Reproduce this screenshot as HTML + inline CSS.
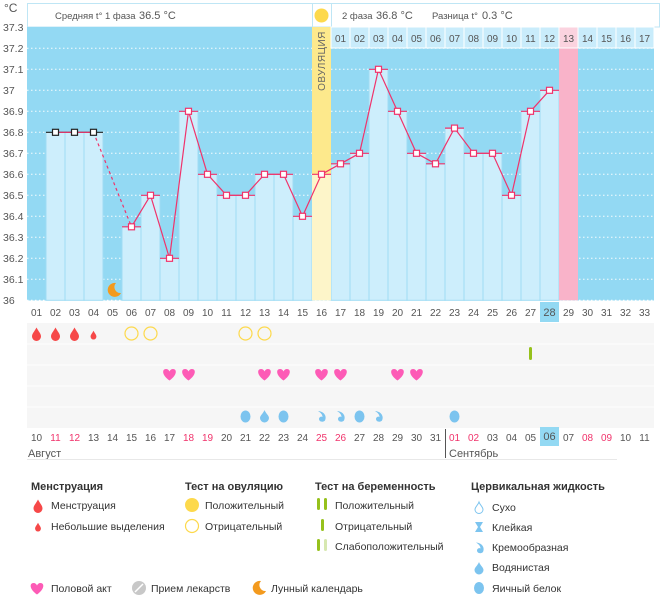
<!DOCTYPE html>
<html><head><meta charset="utf-8"><style>
body{margin:0;background:#fff}
svg{display:block;font-family:"Liberation Sans","DejaVu Sans",sans-serif}
</style></head><body>
<svg width="663" height="595" viewBox="0 0 663 595" xmlns="http://www.w3.org/2000/svg">
<defs>
<path id="drop" d="M0,-6.5 C2,-2.5 4.5,-0.5 4.5,2.5 A4.5,4.5 0 0 1 -4.5,2.5 C-4.5,-0.5 -2,-2.5 0,-6.5Z"/>
<path id="heart" d="M0,5.5 C-8,0 -7.5,-6 -3.5,-6 C-1.8,-6 -0.5,-5 0,-3.5 C0.5,-5 1.8,-6 3.5,-6 C7.5,-6 8,0 0,5.5Z"/>
<path id="cream" d="M-3.5,-5.5 C3,-5 5.5,0 3.5,4 C2,6 -2.5,5.5 -2.5,2.5 C-2.5,0.5 0,-0.5 1,0.5 C1,-2 -1,-4 -3.5,-5.5Z"/>
<path id="wdrop" d="M0,-6 C1,-3 4.5,-0.5 4.5,2 A4.5,4.5 0 0 1 -4.5,2 C-4.5,-0.5 -1,-3 0,-6Z"/>
<path id="moon" d="M2,-7 A7,7 0 1 0 7,3 A6,6 0 0 1 2,-7Z"/>
</defs>

<text x="4" y="12" font-size="12" fill="#555">°C</text>

<rect x="27.5" y="3.5" width="632" height="23.5" fill="#fff" stroke="#bfe6f5"/>
<line x1="312.5" y1="3.5" x2="312.5" y2="27" stroke="#bfe6f5"/>
<line x1="331.5" y1="3.5" x2="331.5" y2="27" stroke="#bfe6f5"/>
<text x="55" y="19" font-size="9.5" fill="#555">Средняя t° 1 фаза</text>
<text x="139" y="19" font-size="11" fill="#555">36.5 °C</text>
<text x="342" y="19" font-size="9.5" fill="#555">2 фаза</text>
<text x="376" y="19" font-size="11" fill="#555">36.8 °C</text>
<text x="432" y="19" font-size="9.5" fill="#555">Разница t°</text>
<text x="482" y="19" font-size="11" fill="#555">0.3 °C</text>
<circle cx="321.5" cy="15.5" r="7" fill="#fdd94c"/>

<rect x="27" y="27" width="627" height="273.5" fill="#93d9f3"/>
<g stroke="#fff" stroke-dasharray="1.5,2.5" stroke-width="1" opacity="0.9">
<line x1="27" x2="654" y1="48.3" y2="48.3"/><line x1="27" x2="654" y1="69.3" y2="69.3"/>
<line x1="27" x2="654" y1="90.3" y2="90.3"/><line x1="27" x2="654" y1="111.3" y2="111.3"/>
<line x1="27" x2="654" y1="132.3" y2="132.3"/><line x1="27" x2="654" y1="153.3" y2="153.3"/>
<line x1="27" x2="654" y1="174.3" y2="174.3"/><line x1="27" x2="654" y1="195.3" y2="195.3"/>
<line x1="27" x2="654" y1="216.3" y2="216.3"/><line x1="27" x2="654" y1="237.3" y2="237.3"/>
<line x1="27" x2="654" y1="258.3" y2="258.3"/><line x1="27" x2="654" y1="279.3" y2="279.3"/>
<line x1="27" x2="654" y1="300.3" y2="300.3"/>
</g>

<g fill="#cdeefc" stroke="#9fdcf3" stroke-width="1">
<rect x="46" y="132.3" width="19" height="168"/>
<rect x="65" y="132.3" width="19" height="168"/>
<rect x="84" y="132.3" width="19" height="168"/>
<rect x="122" y="226.8" width="19" height="73.5"/>
<rect x="141" y="195.3" width="19" height="105"/>
<rect x="160" y="258.3" width="19" height="42"/>
<rect x="179" y="111.3" width="19" height="189"/>
<rect x="198" y="174.3" width="19" height="126"/>
<rect x="217" y="195.3" width="19" height="105"/>
<rect x="236" y="195.3" width="19" height="105"/>
<rect x="255" y="174.3" width="19" height="126"/>
<rect x="274" y="174.3" width="19" height="126"/>
<rect x="293" y="216.3" width="19" height="84"/>
<rect x="331" y="163.8" width="19" height="136.5"/>
<rect x="350" y="153.3" width="19" height="147"/>
<rect x="369" y="69.3" width="19" height="231"/>
<rect x="388" y="111.3" width="19" height="189"/>
<rect x="407" y="153.3" width="19" height="147"/>
<rect x="426" y="163.8" width="19" height="136.5"/>
<rect x="445" y="128.1" width="19" height="172.2"/>
<rect x="464" y="153.3" width="19" height="147"/>
<rect x="483" y="153.3" width="19" height="147"/>
<rect x="502" y="195.3" width="19" height="105"/>
<rect x="521" y="111.3" width="19" height="189"/>
<rect x="540" y="90.3" width="19" height="210"/>
</g>
<rect x="312" y="27" width="19" height="147.3" fill="#fde98c"/>
<rect x="312" y="174.3" width="19" height="126" fill="#fdf5c9"/>
<text transform="translate(325,61) rotate(-90)" font-size="10" fill="#666" text-anchor="middle" letter-spacing="0.5">ОВУЛЯЦИЯ</text>
<rect x="559" y="27" width="19" height="273.3" fill="#f9b3c9"/>

<g fill="#c9ecfb" stroke="#fff" stroke-width="1">
<rect x="331" y="27" width="19" height="21"/><rect x="350" y="27" width="19" height="21"/>
<rect x="369" y="27" width="19" height="21"/><rect x="388" y="27" width="19" height="21"/>
<rect x="407" y="27" width="19" height="21"/><rect x="426" y="27" width="19" height="21"/>
<rect x="445" y="27" width="19" height="21"/><rect x="464" y="27" width="19" height="21"/>
<rect x="483" y="27" width="19" height="21"/><rect x="502" y="27" width="19" height="21"/>
<rect x="521" y="27" width="19" height="21"/><rect x="540" y="27" width="19" height="21"/>
<rect x="559" y="27" width="19" height="21" fill="#fbd3df"/><rect x="578" y="27" width="19" height="21"/>
<rect x="597" y="27" width="19" height="21"/><rect x="616" y="27" width="19" height="21"/>
<rect x="635" y="27" width="19" height="21"/>
</g>
<g font-size="10" fill="#555" text-anchor="middle">
<text x="340.5" y="42">01</text><text x="359.5" y="42">02</text><text x="378.5" y="42">03</text>
<text x="397.5" y="42">04</text><text x="416.5" y="42">05</text><text x="435.5" y="42">06</text>
<text x="454.5" y="42">07</text><text x="473.5" y="42">08</text><text x="492.5" y="42">09</text>
<text x="511.5" y="42">10</text><text x="530.5" y="42">11</text><text x="549.5" y="42">12</text>
<text x="568.5" y="42">13</text><text x="587.5" y="42">14</text><text x="606.5" y="42">15</text>
<text x="625.5" y="42">16</text><text x="644.5" y="42">17</text>
</g>

<g stroke="#222" stroke-width="1.2">
<line x1="46" x2="103" y1="132.3" y2="132.3"/>
</g>
<g stroke="#f0336b" stroke-width="1.2">
<line x1="122" x2="141" y1="226.8" y2="226.8"/><line x1="141" x2="160" y1="195.3" y2="195.3"/>
<line x1="160" x2="179" y1="258.3" y2="258.3"/><line x1="179" x2="198" y1="111.3" y2="111.3"/>
<line x1="198" x2="217" y1="174.3" y2="174.3"/><line x1="217" x2="255" y1="195.3" y2="195.3"/>
<line x1="255" x2="293" y1="174.3" y2="174.3"/><line x1="293" x2="312" y1="216.3" y2="216.3"/>
<line x1="312" x2="331" y1="174.3" y2="174.3"/><line x1="331" x2="350" y1="163.8" y2="163.8"/>
<line x1="350" x2="369" y1="153.3" y2="153.3"/><line x1="369" x2="388" y1="69.3" y2="69.3"/>
<line x1="388" x2="407" y1="111.3" y2="111.3"/><line x1="407" x2="426" y1="153.3" y2="153.3"/>
<line x1="426" x2="445" y1="163.8" y2="163.8"/><line x1="445" x2="464" y1="128.1" y2="128.1"/>
<line x1="464" x2="502" y1="153.3" y2="153.3"/><line x1="502" x2="521" y1="195.3" y2="195.3"/>
<line x1="521" x2="540" y1="111.3" y2="111.3"/><line x1="540" x2="559" y1="90.3" y2="90.3"/>
</g>
<polyline points="55.5,132.3 74.5,132.3 93.5,132.3" fill="none" stroke="#f0336b" stroke-width="1.2"/>
<line x1="93.5" y1="132.3" x2="131.5" y2="226.8" stroke="#f0336b" stroke-width="1.2" stroke-dasharray="3,3"/>
<polyline fill="none" stroke="#f0336b" stroke-width="1.2" points="131.5,226.8 150.5,195.3 169.5,258.3 188.5,111.3 207.5,174.3 226.5,195.3 245.5,195.3 264.5,174.3 283.5,174.3 302.5,216.3 321.5,174.3 340.5,163.8 359.5,153.3 378.5,69.3 397.5,111.3 416.5,153.3 435.5,163.8 454.5,128.1 473.5,153.3 492.5,153.3 511.5,195.3 530.5,111.3 549.5,90.3"/>
<g fill="#fff" stroke="#222" stroke-width="1.2">
<rect x="52.5" y="129.3" width="6" height="6"/><rect x="71.5" y="129.3" width="6" height="6"/><rect x="90.5" y="129.3" width="6" height="6"/>
</g>
<g fill="#fff" stroke="#f0336b" stroke-width="1.2">
<rect x="128.5" y="223.8" width="6" height="6"/><rect x="147.5" y="192.3" width="6" height="6"/>
<rect x="166.5" y="255.3" width="6" height="6"/><rect x="185.5" y="108.3" width="6" height="6"/>
<rect x="204.5" y="171.3" width="6" height="6"/><rect x="223.5" y="192.3" width="6" height="6"/>
<rect x="242.5" y="192.3" width="6" height="6"/><rect x="261.5" y="171.3" width="6" height="6"/>
<rect x="280.5" y="171.3" width="6" height="6"/><rect x="299.5" y="213.3" width="6" height="6"/>
<rect x="318.5" y="171.3" width="6" height="6"/><rect x="337.5" y="160.8" width="6" height="6"/>
<rect x="356.5" y="150.3" width="6" height="6"/><rect x="375.5" y="66.3" width="6" height="6"/>
<rect x="394.5" y="108.3" width="6" height="6"/><rect x="413.5" y="150.3" width="6" height="6"/>
<rect x="432.5" y="160.8" width="6" height="6"/><rect x="451.5" y="125.1" width="6" height="6"/>
<rect x="470.5" y="150.3" width="6" height="6"/><rect x="489.5" y="150.3" width="6" height="6"/>
<rect x="508.5" y="192.3" width="6" height="6"/><rect x="527.5" y="108.3" width="6" height="6"/>
<rect x="546.5" y="87.3" width="6" height="6"/>
</g>
<use href="#moon" x="114" y="290" fill="#f39a1e"/>

<g font-size="10.5" fill="#555">
<text x="3" y="31">37.3</text><text x="3" y="52">37.2</text><text x="3" y="73">37.1</text>
<text x="3" y="94">37</text><text x="3" y="115">36.9</text><text x="3" y="136">36.8</text>
<text x="3" y="157">36.7</text><text x="3" y="178">36.6</text><text x="3" y="199">36.5</text>
<text x="3" y="220">36.4</text><text x="3" y="241">36.3</text><text x="3" y="262">36.2</text>
<text x="3" y="283">36.1</text><text x="3" y="304">36</text>
</g>

<rect x="540" y="302" width="19" height="20" fill="#93d9f3"/>
<g font-size="10" fill="#555" text-anchor="middle">
<text x="36.5" y="316">01</text><text x="55.5" y="316">02</text><text x="74.5" y="316">03</text><text x="93.5" y="316">04</text>
<text x="112.5" y="316">05</text><text x="131.5" y="316">06</text><text x="150.5" y="316">07</text><text x="169.5" y="316">08</text>
<text x="188.5" y="316">09</text><text x="207.5" y="316">10</text><text x="226.5" y="316">11</text><text x="245.5" y="316">12</text>
<text x="264.5" y="316">13</text><text x="283.5" y="316">14</text><text x="302.5" y="316">15</text><text x="321.5" y="316">16</text>
<text x="340.5" y="316">17</text><text x="359.5" y="316">18</text><text x="378.5" y="316">19</text><text x="397.5" y="316">20</text>
<text x="416.5" y="316">21</text><text x="435.5" y="316">22</text><text x="454.5" y="316">23</text><text x="473.5" y="316">24</text>
<text x="492.5" y="316">25</text><text x="511.5" y="316">26</text><text x="530.5" y="316">27</text><text x="549.5" y="316" font-size="11">28</text>
<text x="568.5" y="316">29</text><text x="587.5" y="316">30</text><text x="606.5" y="316">31</text><text x="625.5" y="316">32</text>
<text x="644.5" y="316">33</text>
</g>

<rect x="27" y="323" width="627" height="105" fill="#f6f6f6"/>
<g stroke="#fff" stroke-width="1">
<line x1="27" x2="654" y1="344" y2="344"/><line x1="27" x2="654" y1="365" y2="365"/>
<line x1="27" x2="654" y1="386" y2="386"/><line x1="27" x2="654" y1="407" y2="407"/>
</g>
<g fill="#f64848">
<use href="#drop" x="36.5" y="334"/><use href="#drop" x="55.5" y="334"/><use href="#drop" x="74.5" y="334"/>
<g transform="translate(93.5,335) scale(0.65)"><use href="#drop"/></g>
</g>
<g fill="none" stroke="#fdd94c" stroke-width="1.2">
<circle cx="131.5" cy="333.5" r="6.5"/><circle cx="150.5" cy="333.5" r="6.5"/>
<circle cx="245.5" cy="333.5" r="6.5"/><circle cx="264.5" cy="333.5" r="6.5"/>
</g>
<rect x="529" y="347" width="3" height="13" rx="1.5" fill="#96c11c"/>
<g fill="#fd5bb6">
<use href="#heart" x="169.5" y="375"/><use href="#heart" x="188.5" y="375"/>
<use href="#heart" x="264.5" y="375"/><use href="#heart" x="283.5" y="375"/>
<use href="#heart" x="321.5" y="375"/><use href="#heart" x="340.5" y="375"/>
<use href="#heart" x="397.5" y="375"/><use href="#heart" x="416.5" y="375"/>
</g>
<g fill="#7cc4ef">
<ellipse cx="245.5" cy="416.5" rx="5" ry="6"/>
<use href="#wdrop" x="264.5" y="416"/>
<ellipse cx="283.5" cy="416.5" rx="5" ry="6"/>
<use href="#cream" x="321.5" y="416.5"/><use href="#cream" x="340.5" y="416.5"/>
<ellipse cx="359.5" cy="416.5" rx="5" ry="6"/>
<use href="#cream" x="378.5" y="416.5"/>
<ellipse cx="454.5" cy="416.5" rx="5" ry="6"/>
</g>

<rect x="540" y="427" width="19" height="19" fill="#93d9f3"/>
<g font-size="10" fill="#555" text-anchor="middle">
<text x="36.5" y="441">10</text><text x="55.5" y="441" fill="#f0336b">11</text><text x="74.5" y="441" fill="#f0336b">12</text>
<text x="93.5" y="441">13</text><text x="112.5" y="441">14</text><text x="131.5" y="441">15</text><text x="150.5" y="441">16</text>
<text x="169.5" y="441">17</text><text x="188.5" y="441" fill="#f0336b">18</text><text x="207.5" y="441" fill="#f0336b">19</text>
<text x="226.5" y="441">20</text><text x="245.5" y="441">21</text><text x="264.5" y="441">22</text><text x="283.5" y="441">23</text>
<text x="302.5" y="441">24</text><text x="321.5" y="441" fill="#f0336b">25</text><text x="340.5" y="441" fill="#f0336b">26</text>
<text x="359.5" y="441">27</text><text x="378.5" y="441">28</text><text x="397.5" y="441">29</text><text x="416.5" y="441">30</text>
<text x="435.5" y="441">31</text><text x="454.5" y="441" fill="#f0336b">01</text><text x="473.5" y="441" fill="#f0336b">02</text>
<text x="492.5" y="441">03</text><text x="511.5" y="441">04</text><text x="530.5" y="441">05</text>
<text x="549.5" y="440" font-size="11">06</text><text x="568.5" y="441">07</text>
<text x="587.5" y="441" fill="#f0336b">08</text><text x="606.5" y="441" fill="#f0336b">09</text>
<text x="625.5" y="441">10</text><text x="644.5" y="441">11</text>
</g>
<line x1="445.5" y1="429" x2="445.5" y2="458" stroke="#555" stroke-width="1"/>
<text x="28" y="457" font-size="11" fill="#555">Август</text>
<text x="449" y="457" font-size="11" fill="#555">Сентябрь</text>
<line x1="27" y1="459.5" x2="617" y2="459.5" stroke="#e8e8e8"/>

<g font-size="10.5" fill="#333">
<text x="31" y="490" font-weight="bold" font-size="11">Менструация</text>
<use href="#drop" x="38" y="506" fill="#f64848"/>
<text x="51" y="509">Менструация</text>
<g transform="translate(38,527) scale(0.65)"><use href="#drop" fill="#f64848"/></g>
<text x="51" y="530">Небольшие выделения</text>

<text x="185" y="490" font-weight="bold" font-size="11">Тест на овуляцию</text>
<circle cx="192" cy="505" r="7" fill="#fdd94c"/>
<text x="205" y="509">Положительный</text>
<circle cx="192" cy="526" r="6.5" fill="none" stroke="#fdd94c" stroke-width="1.2"/>
<text x="205" y="530">Отрицательный</text>

<text x="315" y="490" font-weight="bold" font-size="11">Тест на беременность</text>
<rect x="317" y="498" width="3" height="12" rx="1.5" fill="#96c11c"/><rect x="324" y="498" width="3" height="12" rx="1.5" fill="#96c11c"/>
<text x="335" y="509">Положительный</text>
<rect x="321" y="519" width="3" height="12" rx="1.5" fill="#96c11c"/>
<text x="335" y="530">Отрицательный</text>
<rect x="317" y="539" width="3" height="12" rx="1.5" fill="#96c11c"/><rect x="324" y="539" width="3" height="12" rx="1.5" fill="#d7e8b0"/>
<text x="335" y="550">Слабоположительный</text>

<text x="471" y="490" font-weight="bold" font-size="11">Цервикальная жидкость</text>
<path d="M479,502 C480,505 483,507 483,509.5 A4,4 0 0 1 475,509.5 C475,507 478,505 479,502Z" fill="none" stroke="#7cc4ef" stroke-width="1"/>
<text x="492" y="511">Сухо</text>
<path d="M475,522 L483,522 L480,527 L483,532 L475,532 L478,527Z" fill="#7cc4ef"/>
<text x="492" y="531">Клейкая</text>
<use href="#cream" x="479.5" y="548" fill="#7cc4ef"/>
<text x="492" y="551">Кремообразная</text>
<use href="#wdrop" x="479" y="568" fill="#7cc4ef"/>
<text x="492" y="571">Водянистая</text>
<ellipse cx="479" cy="588" rx="5" ry="6" fill="#7cc4ef"/>
<text x="492" y="592">Яичный белок</text>

<use href="#heart" x="37" y="589" fill="#fd5bb6"/>
<text x="51" y="592">Половой акт</text>
<circle cx="139" cy="588" r="7" fill="#c8c8c8"/>
<line x1="135" y1="592" x2="143" y2="584" stroke="#fff" stroke-width="1.5"/>
<text x="151" y="592">Прием лекарств</text>
<use href="#moon" x="259" y="588" fill="#f39a1e"/>
<text x="271" y="592">Лунный календарь</text>
</g>
</svg>
</body></html>
